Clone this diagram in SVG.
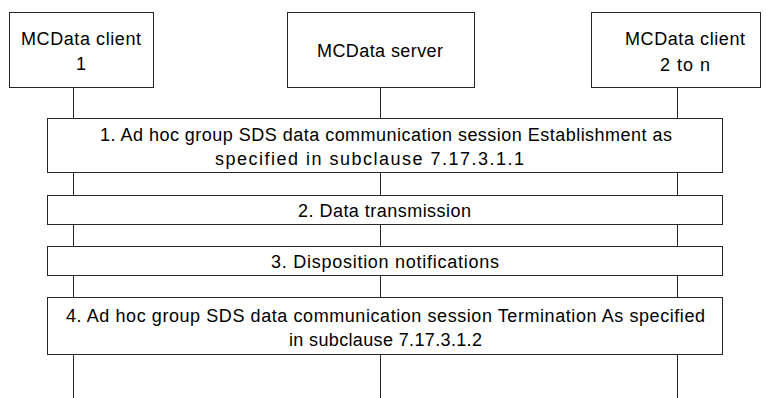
<svg xmlns="http://www.w3.org/2000/svg" width="769" height="398" viewBox="0 0 769 398">
<style>
  .box { fill: #ffffff; stroke: #262626; stroke-width: 1; }
  .life { stroke: #262626; stroke-width: 1; fill: none; }
  text { font-family: "Liberation Sans", Arial, sans-serif; font-size: 18px; fill: #000000; }
  .c { text-anchor: middle; }
</style>
<rect x="0" y="0" width="769" height="398" fill="#ffffff"/>
<g id="connectors">
  <line class="life" x1="73.5" y1="88" x2="73.5" y2="398"/>
  <line class="life" x1="380.5" y1="88" x2="380.5" y2="398"/>
  <line class="life" x1="677.5" y1="88" x2="677.5" y2="398"/>
</g>
<g id="client1">
  <rect class="box" x="9.5" y="12.5" width="144" height="75"/>
  <text class="c" x="81" y="45" textLength="120" lengthAdjust="spacing">MCData client</text>
  <text class="c" x="81" y="70">1</text>
</g>
<g id="server">
  <rect class="box" x="287.5" y="12.5" width="187" height="75"/>
  <text class="c" x="380" y="57" textLength="126" lengthAdjust="spacing">MCData server</text>
</g>
<g id="client2">
  <rect class="box" x="591.5" y="12.5" width="169" height="75"/>
  <text class="c" x="685" y="44.5" textLength="120" lengthAdjust="spacing">MCData client</text>
  <text class="c" x="685" y="70.5" textLength="50" lengthAdjust="spacing">2 to n</text>
</g>
<g id="step1">
  <rect class="box" x="47.5" y="118.5" width="675" height="54"/>
  <text x="100" y="141" textLength="572" lengthAdjust="spacing">1. Ad hoc group SDS data communication session Establishment as</text>
  <text x="215" y="165" textLength="309" lengthAdjust="spacing">specified in subclause 7.17.3.1.1</text>
</g>
<g id="step2">
  <rect class="box" x="47.5" y="195.5" width="675" height="29"/>
  <text x="298" y="217" textLength="173" lengthAdjust="spacing">2. Data transmission</text>
</g>
<g id="step3">
  <rect class="box" x="47.5" y="246.5" width="675" height="29"/>
  <text x="271" y="268" textLength="228" lengthAdjust="spacing">3. Disposition notifications</text>
</g>
<g id="step4">
  <rect class="box" x="47.5" y="297.5" width="675" height="57"/>
  <text x="66" y="321.5" textLength="639" lengthAdjust="spacing">4. Ad hoc group SDS data communication session Termination As specified</text>
  <text x="289" y="345.5" textLength="193" lengthAdjust="spacing">in subclause 7.17.3.1.2</text>
</g>
</svg>
